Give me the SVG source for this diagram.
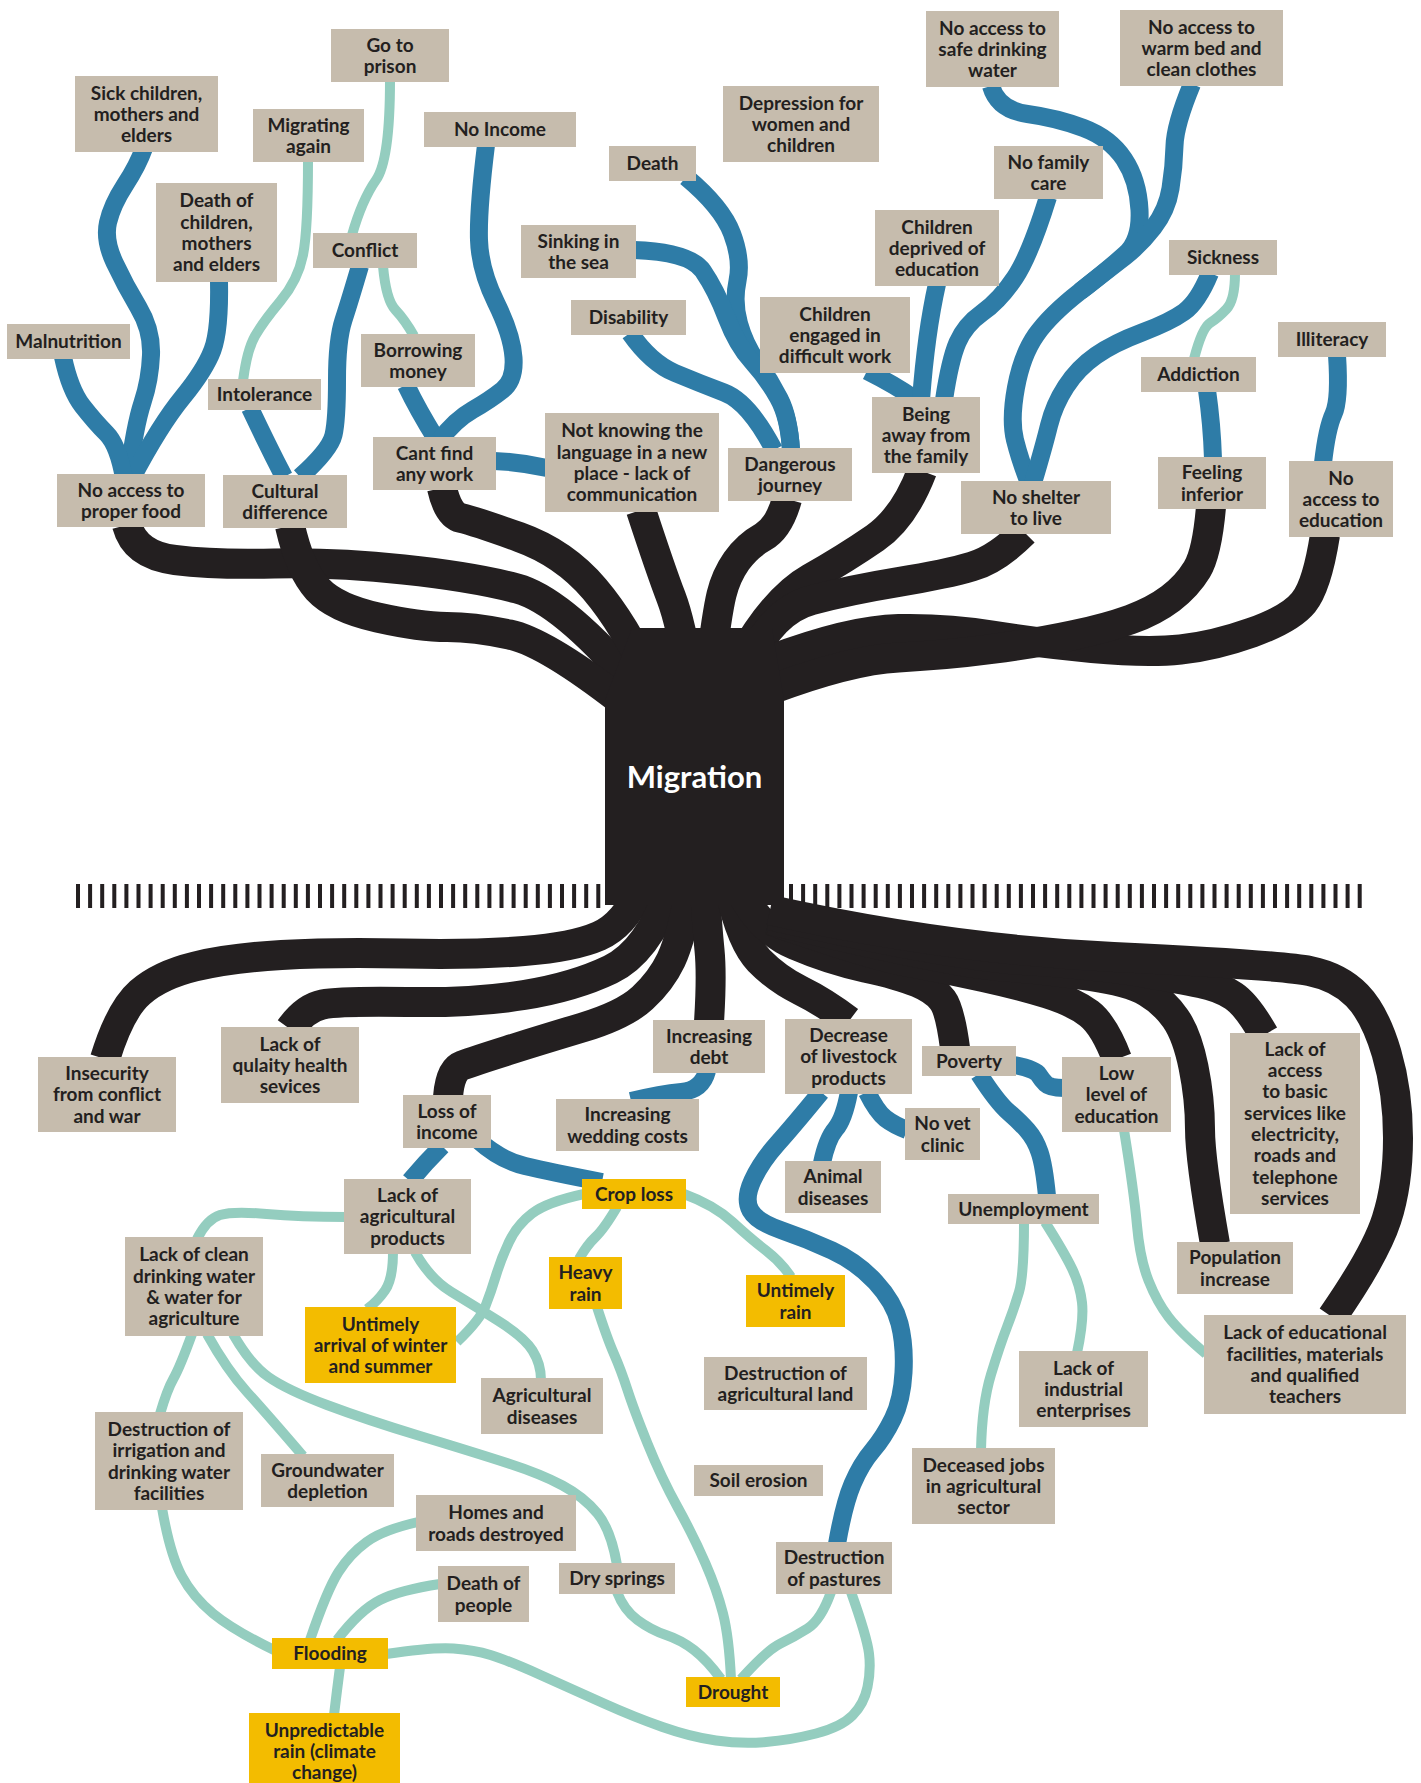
<svg xmlns="http://www.w3.org/2000/svg" width="1421" height="1783" viewBox="0 0 1421 1783">
<style>
.bx{fill:#c6bcad}
.yl{fill:#f3bc00}
.t{font-family:Lato,"Open Sans","Liberation Sans",sans-serif;font-weight:700;font-size:19px;fill:#231f20;text-anchor:middle}
.k{stroke:#231f20;stroke-width:30;fill:none}
.b{stroke:#2e7ca7;stroke-width:18;fill:none}
.g{stroke:#94cdbf;stroke-width:10;fill:none}
.dash{stroke:#231f20;stroke-width:24;stroke-dasharray:4 8.1}
</style>
<rect width="1421" height="1783" fill="#ffffff"/>
<g id="ground">
<line class="dash" x1="76" y1="896" x2="602" y2="896"/>
<line class="dash" x1="789" y1="896" x2="1363" y2="896"/>
</g>
<g id="connectors">
<!-- black branches top -->
<path class="k" d="M127,525 Q135,555 175,560 Q215,565 274,563.5 Q333,562 403.5,569.5 Q474,577 517,588.5 Q560,600 630,680"/>
<path class="k" d="M290,526 Q300,570 317.5,589 Q335,608 377.5,617.5 Q420,627 447,627 Q474,627 509.5,634.5 Q545,642 620,700"/>
<path class="k" d="M442,488 Q448,515 461,518 Q474,521 519,537 Q564,553 594.5,589 Q625,625 650,680"/>
<path class="k" d="M641,510 Q661,571 671,597 Q681,623 690,680"/>
<path class="k" d="M787,499 Q779,528 763,537 Q747,546 736.5,561 Q726,576 721.5,594.5 Q717,613 710,670"/>
<path class="k" d="M922,471 Q904,518 875,538 Q846,558 810,578.5 Q774,599 740,660"/>
<path class="k" d="M1024,532 Q997,559 972,566.5 Q947,574 898.5,582 Q850,590 812,600 Q774,610 750,660"/>
<path class="k" d="M1325,535 Q1317,586 1303.5,602.5 Q1290,619 1252,632.5 Q1214,646 1180.5,649.5 Q1147,653 1092,648 Q1037,643 992,635.5 Q947,628 898.5,629 Q850,630 770,660"/>
<path class="k" d="M1211,507 Q1207,553 1197,569.5 Q1187,586 1170.5,598.5 Q1154,611 1130.5,619.5 Q1107,628 1072,635.5 Q1037,643 992,649 Q947,655 898.5,657.5 Q850,660 770,690"/>
<!-- black roots bottom -->
<path class="k" d="M105,1059 Q120,1010 140,992.5 Q160,975 195,966.5 Q230,958 281.5,955 Q333,952 403.5,953.5 Q474,955 524,951 Q574,947 599,936 Q624,925 640,890"/>
<path class="k" d="M290,1029 Q305,1008 322.5,1004.5 Q340,1001 407,1002 Q474,1003 524,995 Q574,987 610.5,969.5 Q647,952 670,890"/>
<path class="k" d="M448,1097 Q450,1070 462,1065.5 Q474,1061 507.5,1050.5 Q541,1040 582.5,1027.5 Q624,1015 642.5,998 Q661,981 671,960 Q681,939 690,890"/>
<path class="k" d="M709,1022 Q712,975 709.5,950 Q707,925 705,890"/>
<path class="k" d="M849,1021 Q824,1002 800.5,990.5 Q777,979 759,960.5 Q741,942 730,890"/>
<path class="k" d="M955,1048 Q950,1010 942.5,1000 Q935,990 917.5,982.5 Q900,975 865,967.5 Q830,960 795,945 Q760,930 740,890"/>
<path class="k" d="M1117,1059 Q1104,1025 1089,1013.5 Q1074,1002 1047,993.5 Q1020,985 983.5,977 Q947,969 908.5,962 Q870,955 770,920"/>
<path class="k" d="M1215,1244 Q1200,1159 1200,1129 Q1200,1099 1193.5,1067 Q1187,1035 1175.5,1018.5 Q1164,1002 1147,992 Q1130,982 1090,976 Q1050,970 998.5,966 Q947,962 770,920"/>
<path class="k" d="M1264,1035 Q1247,1005 1233.5,996 Q1220,987 1200,983 Q1180,979 1140,972 Q1100,965 1023.5,960 Q947,955 770,915"/>
<path class="k" d="M1332,1317 Q1375,1255 1386.5,1219.5 Q1398,1184 1398,1138 Q1398,1092 1386.5,1053 Q1375,1014 1357,995.5 Q1339,977 1309.5,971 Q1280,965 1113.5,957 Q947,949 770,910"/>
<!-- blue top -->
<path class="b" d="M144,148 Q138,165 125,185 Q112,205 108,222.5 Q104,240 114.5,262.5 Q125,285 138.5,307.5 Q152,330 151,355 Q150,380 142.5,402.5 Q135,425 128,478"/>
<path class="b" d="M219,280 Q220,330 212.5,350 Q205,370 182.5,397.5 Q160,425 132,478"/>
<path class="b" d="M63,357 Q70,390 82.5,406 Q95,422 106.5,433.5 Q118,445 124,478"/>
<path class="b" d="M360,266 Q350,300 343.5,320 Q337,340 337,380 Q337,420 333.5,435 Q330,450 300,477"/>
<path class="b" d="M250,408 Q268,446 284,477"/>
<path class="b" d="M406,385 Q418,410 436,439"/>
<path class="b" d="M486,145 Q478,210 479,240 Q480,270 496,302.5 Q512,335 513.5,357.5 Q515,380 502.5,390 Q490,400 472.5,410 Q455,420 440,440"/>
<path class="b" d="M494,461 Q520,462 547,468"/>
<path class="b" d="M686,177 Q722,207 732,233.5 Q742,260 737.5,281 Q733,302 739,323.5 Q745,345 757.5,362.5 Q770,380 779.5,398.5 Q789,417 791,450"/>
<path class="b" d="M634,250 Q690,252 703,271 Q716,290 726.5,317.5 Q737,345 752,361.5 Q767,378 778,397.5 Q789,417 791,450"/>
<path class="b" d="M630,333 Q651,363 675,373 Q699,383 724,392.5 Q749,402 774,450"/>
<path class="b" d="M867,371 Q895,385 915,399"/>
<path class="b" d="M937,284 Q926,333 921,400"/>
<path class="b" d="M1048,197 Q1030,255 1015,277.5 Q1000,300 982.5,312.5 Q965,325 957.5,342.5 Q950,360 944,400"/>
<path class="b" d="M991,86 Q998,110 1027.5,114 Q1057,118 1083.5,128 Q1110,138 1124,159 Q1138,180 1139.5,210 Q1141,240 1125.5,254 Q1110,268 1080,291.5 Q1050,315 1036,335 Q1022,355 1016,387.5 Q1010,420 1015,440 Q1020,460 1029,483"/>
<path class="b" d="M1192,84 Q1175,125 1174.5,146 Q1174,167 1170.5,188.5 Q1167,210 1153.5,227.5 Q1140,245 1125,256.5 Q1110,268 1080,291.5"/>
<path class="b" d="M1210,273 Q1198,302 1184,312 Q1170,322 1142,332.5 Q1114,343 1096,355.5 Q1078,368 1066,386.5 Q1054,405 1049,425.5 Q1044,446 1033,483"/>
<path class="b" d="M1207,390 Q1212,425 1213,459"/>
<path class="b" d="M1337,355 Q1340,400 1333.5,414 Q1327,428 1323,463"/>
<!-- teal top -->
<path class="g" d="M308,160 Q308,230 303,255 Q298,280 280.5,301 Q263,322 255,336 Q247,350 243,381"/>
<path class="g" d="M390,80 Q390,160 376,180 Q362,200 352,235"/>
<path class="g" d="M383,266 Q386,300 395.5,310 Q405,320 414,336"/>
<path class="g" d="M1235,273 Q1235,300 1226.5,309 Q1218,318 1210,323 Q1202,328 1194,359"/>
<!-- blue bottom -->
<path class="b" d="M707,1071 Q702,1090 681.5,1092 Q661,1094 631,1101"/>
<path class="b" d="M442,1146 Q425,1163 410,1181"/>
<path class="b" d="M478,1140 Q500,1160 525,1166 Q550,1172 602,1182"/>
<path class="b" d="M821,1092 Q794,1125 777.5,1143.5 Q761,1162 752.5,1180.5 Q744,1199 750.5,1210.5 Q757,1222 782,1230.5 Q807,1239 832,1250.5 Q857,1262 875.5,1282 Q894,1302 899.5,1323.5 Q905,1345 903.5,1372.5 Q902,1400 893,1418.5 Q884,1437 872.5,1450.5 Q861,1464 852.5,1484 Q844,1504 837,1544"/>
<path class="b" d="M849,1092 Q844,1119 835.5,1129 Q827,1139 822,1163"/>
<path class="b" d="M867,1092 Q877,1112 885.5,1118.5 Q894,1125 907,1130"/>
<path class="b" d="M1014,1065 Q1035,1069 1038.5,1074.5 Q1042,1080 1046,1084 Q1050,1088 1064,1088"/>
<path class="b" d="M979,1074 Q997,1102 1008.5,1112 Q1020,1122 1027.5,1130.5 Q1035,1139 1039.5,1152 Q1044,1165 1047,1196"/>
<!-- teal bottom -->
<path class="g" d="M1124,1130 Q1134,1192 1137,1225.5 Q1140,1259 1148.5,1280.5 Q1157,1302 1168.5,1317 Q1180,1332 1206,1354"/>
<path class="g" d="M1024,1222 Q1024,1275 1019,1292 Q1014,1309 1007,1327 Q1000,1345 991,1374.5 Q982,1404 981,1450"/>
<path class="g" d="M1045,1222 Q1064,1252 1072,1268.5 Q1080,1285 1082,1302.5 Q1084,1320 1077,1353"/>
<path class="g" d="M346,1217 Q300,1217 266.5,1214 Q233,1211 220,1215 Q207,1219 197,1239"/>
<path class="g" d="M393,1252 Q393,1279 385,1290.5 Q377,1302 367,1309"/>
<path class="g" d="M415,1252 Q430,1279 451.5,1292 Q473,1305 498.5,1321 Q524,1337 532.5,1350.5 Q541,1364 541,1380"/>
<path class="g" d="M584,1194 Q547,1202 532,1213.5 Q517,1225 509,1242 Q501,1259 496,1275.5 Q491,1292 485.5,1306 Q480,1320 457,1342"/>
<path class="g" d="M617,1207 Q604,1229 595.5,1237 Q587,1245 579,1259"/>
<path class="g" d="M684,1194 Q714,1205 732.5,1222 Q751,1239 766,1250.5 Q781,1262 791,1277"/>
<path class="g" d="M597,1307 Q607,1338 614,1354 Q621,1370 627.5,1390 Q634,1410 647.5,1443.5 Q661,1477 677.5,1507 Q694,1537 705.5,1563.5 Q717,1590 723,1613.5 Q729,1637 731,1679"/>
<path class="g" d="M192,1334 Q180,1367 173.5,1378.5 Q167,1390 160,1414"/>
<path class="g" d="M207,1334 Q227,1370 247,1392 Q267,1414 303,1456"/>
<path class="g" d="M233,1334 Q250,1364 268.5,1377 Q287,1390 327,1405 Q367,1420 420,1436 Q473,1452 507,1463 Q541,1474 562.5,1485.5 Q584,1497 597.5,1513.5 Q611,1530 617,1565"/>
<path class="g" d="M617,1592 Q624,1610 637.5,1620 Q651,1630 666,1635 Q681,1640 694,1650 Q707,1660 721,1679"/>
<path class="g" d="M831,1592 Q821,1620 807.5,1628.5 Q794,1637 780.5,1643.5 Q767,1650 741,1679"/>
<path class="g" d="M851,1592 Q867,1637 869,1653.5 Q871,1670 867.5,1687 Q864,1704 852.5,1715.5 Q841,1727 816,1733.5 Q791,1740 766,1742 Q741,1744 716,1740.5 Q691,1737 662.5,1727 Q634,1717 604,1703.5 Q574,1690 540.5,1675 Q507,1660 490.5,1655 Q474,1650 453.5,1648.5 Q433,1647 386,1654"/>
<path class="g" d="M162,1508 Q170,1554 181.5,1575.5 Q193,1597 213,1613.5 Q233,1630 274,1650"/>
<path class="g" d="M418,1522 Q383,1530 366.5,1542 Q350,1554 338.5,1572 Q327,1590 310,1640"/>
<path class="g" d="M440,1584 Q400,1590 380,1600 Q360,1610 337,1640"/>
<path class="g" d="M340,1667 Q337,1690 334,1715"/>
</g>
<g id="migration">
<path d="M632,628 L772,628 L784,700 L784,905 L605,905 L605,700 Z" fill="#231f20"/>
<text x="694.5" y="788" font-family="Lato,'Open Sans','Liberation Sans',sans-serif" font-weight="700" font-size="31" fill="#ffffff" text-anchor="middle">Migration</text>
</g>
<g id="go-to-prison"><rect class="bx" x="331" y="29" width="118" height="53"/><text class="t" x="390" y="51.7"><tspan x="390">Go to</tspan><tspan x="390" dy="21.3">prison</tspan></text></g>
<g id="sick-children"><rect class="bx" x="75" y="76" width="143" height="76"/><text class="t" x="146.5" y="99.5"><tspan x="146.5">Sick children,</tspan><tspan x="146.5" dy="21.3">mothers and</tspan><tspan x="146.5" dy="21.3">elders</tspan></text></g>
<g id="migrating-again"><rect class="bx" x="253" y="109" width="111" height="53"/><text class="t" x="308.5" y="131.7"><tspan x="308.5">Migrating</tspan><tspan x="308.5" dy="21.3">again</tspan></text></g>
<g id="no-income"><rect class="bx" x="424" y="112" width="152" height="35"/><text class="t" x="500" y="136.3">No Income</text></g>
<g id="death-of-children"><rect class="bx" x="156" y="183" width="121" height="99"/><text class="t" x="216.5" y="207.4"><tspan x="216.5">Death of</tspan><tspan x="216.5" dy="21.3">children,</tspan><tspan x="216.5" dy="21.3">mothers</tspan><tspan x="216.5" dy="21.3">and elders</tspan></text></g>
<g id="conflict"><rect class="bx" x="313" y="233" width="104" height="35"/><text class="t" x="365" y="257.3">Conflict</text></g>
<g id="malnutrition"><rect class="bx" x="7" y="324" width="123" height="35"/><text class="t" x="68.5" y="348.3">Malnutrition</text></g>
<g id="borrowing-money"><rect class="bx" x="361" y="334" width="114" height="53"/><text class="t" x="418" y="356.7"><tspan x="418">Borrowing</tspan><tspan x="418" dy="21.3">money</tspan></text></g>
<g id="intolerance"><rect class="bx" x="208" y="379" width="113" height="31"/><text class="t" x="264.5" y="401.3">Intolerance</text></g>
<g id="cant-find-work"><rect class="bx" x="373" y="437" width="123" height="53"/><text class="t" x="434.5" y="459.7"><tspan x="434.5">Cant find</tspan><tspan x="434.5" dy="21.3">any work</tspan></text></g>
<g id="depression"><rect class="bx" x="723" y="86" width="156" height="76"/><text class="t" x="801" y="109.5"><tspan x="801">Depression for</tspan><tspan x="801" dy="21.3">women and</tspan><tspan x="801" dy="21.3">children</tspan></text></g>
<g id="death"><rect class="bx" x="609" y="146" width="87" height="35"/><text class="t" x="652.5" y="170.3">Death</text></g>
<g id="sinking"><rect class="bx" x="521" y="225" width="115" height="53"/><text class="t" x="578.5" y="247.7"><tspan x="578.5">Sinking in</tspan><tspan x="578.5" dy="21.3">the sea</tspan></text></g>
<g id="disability"><rect class="bx" x="571" y="300" width="115" height="35"/><text class="t" x="628.5" y="324.3">Disability</text></g>
<g id="children-engaged"><rect class="bx" x="760" y="297" width="150" height="76"/><text class="t" x="835" y="320.5"><tspan x="835">Children</tspan><tspan x="835" dy="21.3">engaged in</tspan><tspan x="835" dy="21.3">difficult work</tspan></text></g>
<g id="children-deprived"><rect class="bx" x="875" y="210" width="124" height="76"/><text class="t" x="937" y="233.5"><tspan x="937">Children</tspan><tspan x="937" dy="21.3">deprived of</tspan><tspan x="937" dy="21.3">education</tspan></text></g>
<g id="language"><rect class="bx" x="545" y="413" width="174" height="99"/><text class="t" x="632" y="437.4"><tspan x="632">Not knowing the</tspan><tspan x="632" dy="21.3">language in a new</tspan><tspan x="632" dy="21.3">place - lack of</tspan><tspan x="632" dy="21.3">communication</tspan></text></g>
<g id="away-from-family"><rect class="bx" x="872" y="397" width="108" height="76"/><text class="t" x="926" y="420.5"><tspan x="926">Being</tspan><tspan x="926" dy="21.3">away from</tspan><tspan x="926" dy="21.3">the family</tspan></text></g>
<g id="safe-water"><rect class="bx" x="926" y="11" width="133" height="76"/><text class="t" x="992.5" y="34.5"><tspan x="992.5">No access to</tspan><tspan x="992.5" dy="21.3">safe drinking</tspan><tspan x="992.5" dy="21.3">water</tspan></text></g>
<g id="warm-bed"><rect class="bx" x="1120" y="10" width="163" height="76"/><text class="t" x="1201.5" y="33.5"><tspan x="1201.5">No access to</tspan><tspan x="1201.5" dy="21.3">warm bed and</tspan><tspan x="1201.5" dy="21.3">clean clothes</tspan></text></g>
<g id="family-care"><rect class="bx" x="994" y="146" width="109" height="53"/><text class="t" x="1048.5" y="168.7"><tspan x="1048.5">No family</tspan><tspan x="1048.5" dy="21.3">care</tspan></text></g>
<g id="sickness"><rect class="bx" x="1169" y="240" width="108" height="35"/><text class="t" x="1223" y="264.3">Sickness</text></g>
<g id="addiction"><rect class="bx" x="1141" y="357" width="115" height="35"/><text class="t" x="1198.5" y="381.3">Addiction</text></g>
<g id="illiteracy"><rect class="bx" x="1278" y="322" width="108" height="35"/><text class="t" x="1332" y="346.3">Illiteracy</text></g>
<g id="proper-food"><rect class="bx" x="57" y="474" width="148" height="53"/><text class="t" x="131" y="496.7"><tspan x="131">No access to</tspan><tspan x="131" dy="21.3">proper food</tspan></text></g>
<g id="cultural-difference"><rect class="bx" x="223" y="475" width="124" height="53"/><text class="t" x="285" y="497.7"><tspan x="285">Cultural</tspan><tspan x="285" dy="21.3">difference</tspan></text></g>
<g id="dangerous-journey"><rect class="bx" x="728" y="448" width="124" height="53"/><text class="t" x="790" y="470.7"><tspan x="790">Dangerous</tspan><tspan x="790" dy="21.3">journey</tspan></text></g>
<g id="no-shelter"><rect class="bx" x="961" y="481" width="150" height="53"/><text class="t" x="1036" y="503.7"><tspan x="1036">No shelter</tspan><tspan x="1036" dy="21.3">to live</tspan></text></g>
<g id="feeling-inferior"><rect class="bx" x="1158" y="457" width="108" height="52"/><text class="t" x="1212" y="479.2"><tspan x="1212">Feeling</tspan><tspan x="1212" dy="21.3">inferior</tspan></text></g>
<g id="no-education"><rect class="bx" x="1289" y="461" width="104" height="76"/><text class="t" x="1341" y="484.5"><tspan x="1341">No</tspan><tspan x="1341" dy="21.3">access to</tspan><tspan x="1341" dy="21.3">education</tspan></text></g>
<g id="insecurity"><rect class="bx" x="38" y="1057" width="138" height="75"/><text class="t" x="107" y="1080"><tspan x="107">Insecurity</tspan><tspan x="107" dy="21.3">from conflict</tspan><tspan x="107" dy="21.3">and war</tspan></text></g>
<g id="health-services"><rect class="bx" x="221" y="1027" width="138" height="76"/><text class="t" x="290" y="1050.5"><tspan x="290">Lack of</tspan><tspan x="290" dy="21.3">qulaity health</tspan><tspan x="290" dy="21.3">sevices</tspan></text></g>
<g id="loss-of-income"><rect class="bx" x="403" y="1095" width="88" height="53"/><text class="t" x="447" y="1117.7"><tspan x="447">Loss of</tspan><tspan x="447" dy="21.3">income</tspan></text></g>
<g id="agri-products"><rect class="bx" x="344" y="1179" width="127" height="75"/><text class="t" x="407.5" y="1202"><tspan x="407.5">Lack of</tspan><tspan x="407.5" dy="21.3">agricultural</tspan><tspan x="407.5" dy="21.3">products</tspan></text></g>
<g id="clean-water"><rect class="bx" x="125" y="1237" width="138" height="99"/><text class="t" x="194" y="1261.4"><tspan x="194">Lack of clean</tspan><tspan x="194" dy="21.3">drinking water</tspan><tspan x="194" dy="21.3">&amp; water for</tspan><tspan x="194" dy="21.3">agriculture</tspan></text></g>
<g id="untimely-arrival"><rect class="yl" x="305" y="1307" width="151" height="76"/><text class="t" x="380.5" y="1330.5"><tspan x="380.5">Untimely</tspan><tspan x="380.5" dy="21.3">arrival of winter</tspan><tspan x="380.5" dy="21.3">and summer</tspan></text></g>
<g id="increasing-debt"><rect class="bx" x="653" y="1020" width="112" height="53"/><text class="t" x="709" y="1042.7"><tspan x="709">Increasing</tspan><tspan x="709" dy="21.3">debt</tspan></text></g>
<g id="livestock"><rect class="bx" x="785" y="1019" width="127" height="75"/><text class="t" x="848.5" y="1042"><tspan x="848.5">Decrease</tspan><tspan x="848.5" dy="21.3">of livestock</tspan><tspan x="848.5" dy="21.3">products</tspan></text></g>
<g id="wedding-costs"><rect class="bx" x="556" y="1099" width="143" height="52"/><text class="t" x="627.5" y="1121.2"><tspan x="627.5">Increasing</tspan><tspan x="627.5" dy="21.3">wedding costs</tspan></text></g>
<g id="crop-loss"><rect class="yl" x="582" y="1179" width="104" height="30"/><text class="t" x="634" y="1200.8">Crop loss</text></g>
<g id="animal-diseases"><rect class="bx" x="785" y="1161" width="96" height="52"/><text class="t" x="833" y="1183.2"><tspan x="833">Animal</tspan><tspan x="833" dy="21.3">diseases</tspan></text></g>
<g id="vet-clinic"><rect class="bx" x="905" y="1108" width="75" height="52"/><text class="t" x="942.5" y="1130.2"><tspan x="942.5">No vet</tspan><tspan x="942.5" dy="21.3">clinic</tspan></text></g>
<g id="heavy-rain"><rect class="yl" x="549" y="1257" width="73" height="52"/><text class="t" x="585.5" y="1279.2"><tspan x="585.5">Heavy</tspan><tspan x="585.5" dy="21.3">rain</tspan></text></g>
<g id="untimely-rain"><rect class="yl" x="746" y="1275" width="99" height="52"/><text class="t" x="795.5" y="1297.2"><tspan x="795.5">Untimely</tspan><tspan x="795.5" dy="21.3">rain</tspan></text></g>
<g id="poverty"><rect class="bx" x="922" y="1046" width="94" height="30"/><text class="t" x="969" y="1067.8">Poverty</text></g>
<g id="low-education"><rect class="bx" x="1062" y="1057" width="109" height="75"/><text class="t" x="1116.5" y="1080"><tspan x="1116.5">Low</tspan><tspan x="1116.5" dy="21.3">level of</tspan><tspan x="1116.5" dy="21.3">education</tspan></text></g>
<g id="basic-services"><rect class="bx" x="1230" y="1033" width="130" height="181"/><text class="t" x="1295" y="1055.8"><tspan x="1295">Lack of</tspan><tspan x="1295" dy="21.3">access</tspan><tspan x="1295" dy="21.3">to basic</tspan><tspan x="1295" dy="21.3">services like</tspan><tspan x="1295" dy="21.3">electricity,</tspan><tspan x="1295" dy="21.3">roads and</tspan><tspan x="1295" dy="21.3">telephone</tspan><tspan x="1295" dy="21.3">services</tspan></text></g>
<g id="unemployment"><rect class="bx" x="948" y="1194" width="151" height="30"/><text class="t" x="1023.5" y="1215.8">Unemployment</text></g>
<g id="population"><rect class="bx" x="1177" y="1242" width="116" height="52"/><text class="t" x="1235" y="1264.2"><tspan x="1235">Population</tspan><tspan x="1235" dy="21.3">increase</tspan></text></g>
<g id="edu-facilities"><rect class="bx" x="1204" y="1315" width="202" height="99"/><text class="t" x="1305" y="1339.4"><tspan x="1305">Lack of educational</tspan><tspan x="1305" dy="21.3">facilities, materials</tspan><tspan x="1305" dy="21.3">and qualified</tspan><tspan x="1305" dy="21.3">teachers</tspan></text></g>
<g id="irrigation"><rect class="bx" x="95" y="1412" width="148" height="98"/><text class="t" x="169" y="1435.9"><tspan x="169">Destruction of</tspan><tspan x="169" dy="21.3">irrigation and</tspan><tspan x="169" dy="21.3">drinking water</tspan><tspan x="169" dy="21.3">facilities</tspan></text></g>
<g id="groundwater"><rect class="bx" x="261" y="1454" width="133" height="53"/><text class="t" x="327.5" y="1476.7"><tspan x="327.5">Groundwater</tspan><tspan x="327.5" dy="21.3">depletion</tspan></text></g>
<g id="homes-roads"><rect class="bx" x="416" y="1495" width="160" height="56"/><text class="t" x="496" y="1519.2"><tspan x="496">Homes and</tspan><tspan x="496" dy="21.3">roads destroyed</tspan></text></g>
<g id="death-of-people"><rect class="bx" x="438" y="1566" width="91" height="56"/><text class="t" x="483.5" y="1590.2"><tspan x="483.5">Death of</tspan><tspan x="483.5" dy="21.3">people</tspan></text></g>
<g id="flooding"><rect class="yl" x="272" y="1638" width="116" height="31"/><text class="t" x="330" y="1660.3">Flooding</text></g>
<g id="unpredictable-rain"><rect class="yl" x="249" y="1713" width="151" height="76"/><text class="t" x="324.5" y="1736.5"><tspan x="324.5">Unpredictable</tspan><tspan x="324.5" dy="21.3">rain (climate</tspan><tspan x="324.5" dy="21.3">change)</tspan></text></g>
<g id="agri-diseases"><rect class="bx" x="481" y="1378" width="122" height="56"/><text class="t" x="542" y="1402.2"><tspan x="542">Agricultural</tspan><tspan x="542" dy="21.3">diseases</tspan></text></g>
<g id="agri-land"><rect class="bx" x="704" y="1357" width="163" height="53"/><text class="t" x="785.5" y="1379.7"><tspan x="785.5">Destruction of</tspan><tspan x="785.5" dy="21.3">agricultural land</tspan></text></g>
<g id="soil-erosion"><rect class="bx" x="694" y="1465" width="129" height="31"/><text class="t" x="758.5" y="1487.3">Soil erosion</text></g>
<g id="dry-springs"><rect class="bx" x="559" y="1563" width="116" height="31"/><text class="t" x="617" y="1585.3">Dry springs</text></g>
<g id="pastures"><rect class="bx" x="776" y="1542" width="116" height="52"/><text class="t" x="834" y="1564.2"><tspan x="834">Destruction</tspan><tspan x="834" dy="21.3">of pastures</tspan></text></g>
<g id="drought"><rect class="yl" x="686" y="1677" width="94" height="30"/><text class="t" x="733" y="1698.8">Drought</text></g>
<g id="deceased-jobs"><rect class="bx" x="912" y="1448" width="143" height="76"/><text class="t" x="983.5" y="1471.5"><tspan x="983.5">Deceased jobs</tspan><tspan x="983.5" dy="21.3">in agricultural</tspan><tspan x="983.5" dy="21.3">sector</tspan></text></g>
<g id="industrial"><rect class="bx" x="1019" y="1351" width="129" height="76"/><text class="t" x="1083.5" y="1374.5"><tspan x="1083.5">Lack of</tspan><tspan x="1083.5" dy="21.3">industrial</tspan><tspan x="1083.5" dy="21.3">enterprises</tspan></text></g>
</svg>
